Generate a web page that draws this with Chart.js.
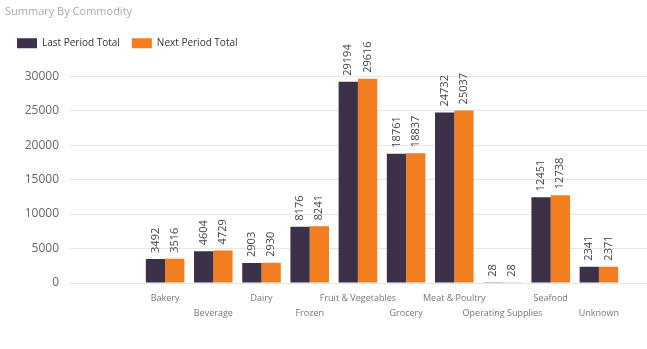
<!DOCTYPE html>
<html>
<head>
<meta charset="utf-8">
<script src="https://cdn.jsdelivr.net/npm/chart.js@4/dist/chart.umd.min.js"></script>
<style>
html,body{margin:0;padding:0;background:#fff;}
#wrap{width:647px;height:349px;position:relative;}
</style>
</head>
<body>
<div id="wrap"><canvas id="c" width="647" height="349"></canvas></div>
<script>
const categories = ['Bakery','Beverage','Dairy','Frozen','Fruit & Vegetables','Grocery','Meat & Poultry','Operating Supplies','Seafood','Unknown'];
const lastPeriod = [3492, 4604, 2903, 8176, 29194, 18761, 24732, 28, 12451, 2341];
const nextPeriod = [3516, 4729, 2930, 8241, 29616, 18837, 25037, 28, 12738, 2371];
const yTicks = [0, 5000, 10000, 15000, 20000, 25000, 30000];

const FONT = "'Segoe UI', 'Open Sans', 'Noto Sans', sans-serif";
const staggered = categories.map((c, i) => i % 2 === 0 ? [c, ''] : ['', c]);

const valueLabels = {
  id: 'valueLabels',
  afterDatasetsDraw(chart) {
    const ctx = chart.ctx;
    ctx.save();
    ctx.font = '11px ' + FONT;
    ctx.fillStyle = '#444';
    ctx.textAlign = 'left';
    ctx.textBaseline = 'middle';
    chart.data.datasets.forEach((ds, di) => {
      const meta = chart.getDatasetMeta(di);
      meta.data.forEach((bar, i) => {
        ctx.save();
        ctx.translate(bar.x, bar.y - 6);
        ctx.rotate(-Math.PI / 2);
        ctx.fillText(String(ds.data[i]), 0, 0);
        ctx.restore();
      });
    });
    ctx.restore();
  }
};

new Chart(document.getElementById('c'), {
  type: 'bar',
  data: {
    labels: staggered,
    datasets: [
      { label: 'Last Period Total', data: lastPeriod, backgroundColor: '#3d3149' },
      { label: 'Next Period Total', data: nextPeriod, backgroundColor: '#f27e20' }
    ]
  },
  options: {
    responsive: false,
    animation: false,
    layout: { padding: { left: 5, right: 0, top: 2, bottom: 26 } },
    datasets: { bar: { categoryPercentage: 0.8, barPercentage: 1.0 } },
    plugins: {
      title: {
        display: true, text: 'Summary By Commodity', align: 'start',
        color: '#aaaaaa', font: { family: FONT, size: 11, weight: 'normal' },
        padding: { top: 3, bottom: 8 }
      },
      subtitle: {
        display: true, text: ' ', weight: 500,
        font: { size: 1, lineHeight: 1 },
        padding: { top: 0, bottom: 17 }
      },
      legend: {
        display: true, align: 'start',
        labels: { boxWidth: 20, boxHeight: 10, color: '#333', font: { family: FONT, size: 10 }, padding: 12 }
      },
      tooltip: { enabled: false }
    },
    scales: {
      x: {
        grid: { display: false },
        border: { display: false },
        ticks: { color: '#777', font: { family: FONT, size: 9, lineHeight: 1.65 }, padding: 0, maxRotation: 0, autoSkip: false },
        afterFit(s) { s.height = 40; }
      },
      y: {
        position: 'left',
        min: 0, max: 30000,
        afterBuildTicks(s) { s.ticks = yTicks.map(v => ({ value: v })); },
        grid: { color: '#e6e6e6', tickLength: 71, tickColor: '#e6e6e6' },
        border: { display: false },
        ticks: { color: '#666', font: { family: FONT, size: 12 }, padding: 11, callback: v => String(v) },
        afterFit(s) { s.width = 136; }
      },
      yr: {
        position: 'right',
        min: 0, max: 30000,
        afterBuildTicks(s) { s.ticks = yTicks.map(v => ({ value: v })); },
        grid: { color: '#e6e6e6', tickLength: 24, tickColor: '#e6e6e6', drawOnChartArea: false },
        border: { display: false },
        ticks: { display: false },
        afterFit(s) { s.width = 24; }
      }
    }
  },
  plugins: [valueLabels]
});
</script>
</body>
</html>
